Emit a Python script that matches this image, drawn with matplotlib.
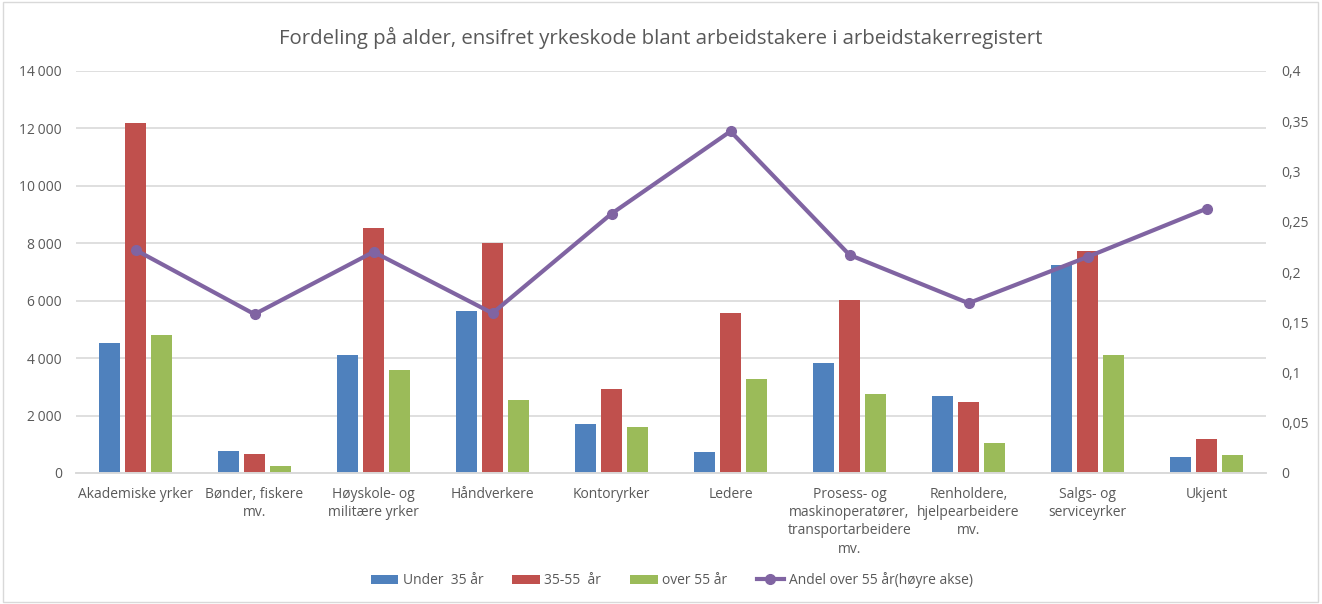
"""Age distribution per one-digit occupation code, bars plus share line on a secondary axis."""

import matplotlib.pyplot as plt
import numpy as np
from matplotlib.patches import Rectangle
from matplotlib.ticker import FuncFormatter, MultipleLocator

CATEGORIES = [
    "Akademiske yrker",
    "Bønder, fiskere\nmv.",
    "Høyskole- og\nmilitære yrker",
    "Håndverkere",
    "Kontoryrker",
    "Ledere",
    "Prosess- og\nmaskinoperatører,\ntransportarbeidere\nmv.",
    "Renholdere,\nhjelpearbeidere\nmv.",
    "Salgs- og\nserviceyrker",
    "Ukjent",
]
UNDER_35 = [4530, 770, 4110, 5640, 1710, 730, 3840, 2690, 7250, 570]
AGE_35_55 = [12190, 650, 8530, 8010, 2915, 5585, 6030, 2460, 7730, 1185]
OVER_55 = [4800, 255, 3580, 2545, 1615, 3265, 2740, 1045, 4100, 615]
SHARE_OVER_55 = [0.222, 0.158, 0.220, 0.159, 0.258, 0.340, 0.217, 0.169, 0.215, 0.263]

BLUE = "#4F81BD"
RED = "#C0504D"
GREEN = "#9BBB59"
PURPLE = "#8064A2"
TEXT = "#595959"
GRID = "#D9D9D9"

plt.rcParams["font.family"] = ["Open Sans", "DejaVu Sans"]

fig = plt.figure(figsize=(13.22, 6.04), dpi=100)
fig.patches.append(Rectangle((0.002, 0.003), 0.995, 0.994, transform=fig.transFigure,
                             fill=False, edgecolor=GRID, linewidth=1.0))
ax = fig.add_axes([76 / 1322, 1 - 473 / 604, (1266 - 76) / 1322, (473 - 71) / 604])
ax2 = ax.twinx()

x = np.arange(len(CATEGORIES))
width = 0.176
pitch = 0.222
ax.bar(x - pitch, UNDER_35, width, color=BLUE, label="Under  35 år", zorder=2)
ax.bar(x, AGE_35_55, width, color=RED, label="35-55  år", zorder=2)
ax.bar(x + pitch, OVER_55, width, color=GREEN, label="over 55 år", zorder=2)
ax2.plot(x, SHARE_OVER_55, color=PURPLE, linewidth=3.0, marker="o", markersize=7,
         label="Andel over 55 år(høyre akse)", zorder=3)

ax.set_xlim(-0.5, len(CATEGORIES) - 0.5)
ax.set_ylim(0, 14000)
ax2.set_ylim(0, 0.4)
ax.yaxis.set_major_locator(MultipleLocator(2000))
ax2.yaxis.set_major_locator(MultipleLocator(0.05))
ax.yaxis.set_major_formatter(FuncFormatter(lambda v, _: f"{int(v):,}".replace(",", "\u202f")))
ax2.yaxis.set_major_formatter(FuncFormatter(lambda v, _: f"{v:.2f}".rstrip("0").rstrip(".").replace(".", ",")))

ax.grid(axis="y", color=GRID, linewidth=1.2, zorder=0)
ax.set_axisbelow(True)
for a in (ax, ax2):
    for side in ("top", "left", "right"):
        a.spines[side].set_visible(False)
    a.spines["bottom"].set_color(GRID)
    a.spines["bottom"].set_linewidth(1.2)
    a.tick_params(length=0, colors=TEXT, labelsize=10)
ax.tick_params(axis="y", pad=10)
ax2.tick_params(axis="y", pad=11)

ax.set_xticks(x)
ax.set_xticklabels(CATEGORIES, fontsize=10, color=TEXT, linespacing=1.3)
ax.tick_params(axis="x", pad=10)

fig.text(0.5, 1 - 38 / 604, "Fordeling på alder, ensifret yrkeskode blant arbeidstakere i arbeidstakerregistert",
         ha="center", va="center", fontsize=14.7, color=TEXT)

handles = ax.get_legend_handles_labels()[0] + ax2.get_legend_handles_labels()[0]
labels = ax.get_legend_handles_labels()[1] + ax2.get_legend_handles_labels()[1]
fig.legend(handles, labels, loc="center", bbox_to_anchor=(0.508, 1 - 580 / 604), ncol=4,
           frameon=False, fontsize=10, labelcolor=TEXT, handlelength=2.0, handleheight=0.6,
           columnspacing=2.1, handletextpad=0.3)

fig.savefig("out.png", dpi=100)
